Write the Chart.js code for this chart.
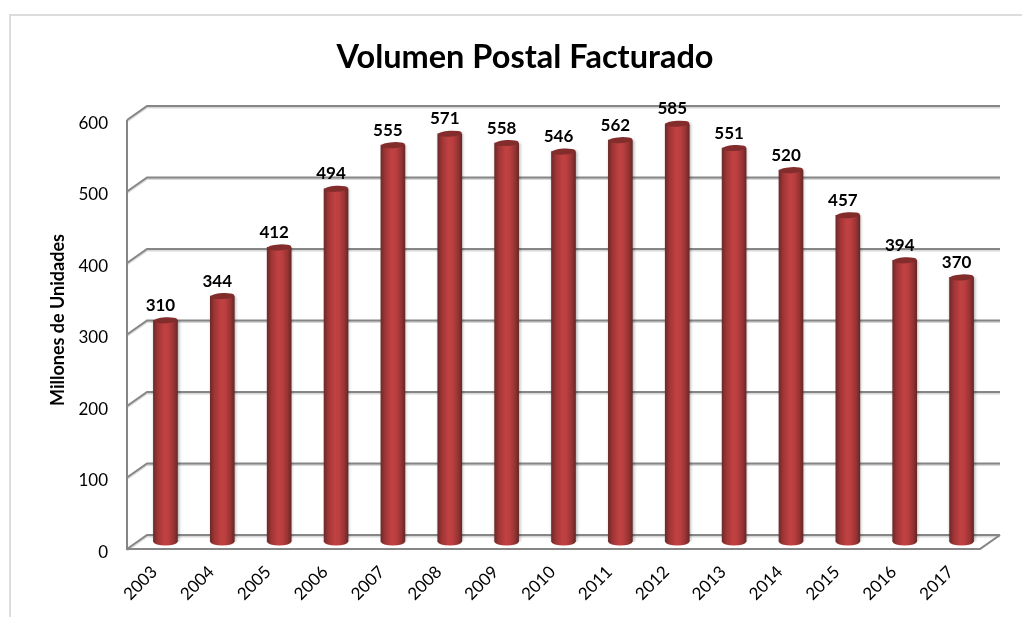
<!DOCTYPE html>
<html>
<head>
<meta charset="utf-8">
<title>Volumen Postal Facturado</title>
<script src="https://cdn.jsdelivr.net/npm/chart.js@4"></script>
<style>
  body { margin: 0; background: #fff; }
  canvas { display: block; }
</style>
</head>
<body>
<canvas id="myChart" width="1022" height="617"></canvas>
<script>
// data
const years = ["2003", "2004", "2005", "2006", "2007", "2008", "2009", "2010", "2011", "2012", "2013", "2014", "2015", "2016", "2017"];
const volumen = [310, 344, 412, 494, 555, 571, 558, 546, 562, 585, 551, 520, 457, 394, 370];
const chartTitle = "Volumen Postal Facturado";
const yTitle = "Millones de Unidades";

// fake 3D: back wall is shifted from the axis, bars stand half way
const depth = { x: 20, y: -14 };
const barShift = { x: 10, y: -7 };
const fontName = "Lato, sans-serif";

function barGradient(c) {
  const chart = c.chart;
  if (!chart.chartArea) return "#b83c3c";
  const x = chart.scales.x.getPixelForValue(c.dataIndex);
  const g = chart.ctx.createLinearGradient(x - 12, 0, x + 12, 0);
  g.addColorStop(0, "#6d2a2a");
  g.addColorStop(0.18, "#a03535");
  g.addColorStop(0.45, "#c04142");
  g.addColorStop(0.62, "#bc3f40");
  g.addColorStop(0.85, "#963333");
  g.addColorStop(1, "#672828");
  return g;
}

const cylinder3d = {
  id: "cylinder3d",
  afterLayout(chart) {
    // title is not centred on the canvas in the original
    chart.titleBlock.left += 35;
    chart.titleBlock.right += 35;
  },
  beforeDraw(chart) {
    const ctx = chart.ctx;
    const { left, right, bottom, top } = chart.chartArea;
    const yScale = chart.scales.y;

    // outer frame
    ctx.save();
    ctx.strokeStyle = "#dcdcdc";
    ctx.lineWidth = 2;
    ctx.beginPath();
    ctx.moveTo(10, 617);
    ctx.lineTo(10, 15);
    ctx.lineTo(1022, 15);
    ctx.stroke();

    // y title
    ctx.save();
    ctx.translate(58, 320);
    ctx.rotate(-Math.PI / 2);
    ctx.font = "bold 18px " + fontName;
    ctx.fillStyle = "#000";
    ctx.textAlign = "center";
    ctx.textBaseline = "middle";
    ctx.fillText(yTitle, 0, 0);
    ctx.restore();

    // walls, light line is the soft shadow
    [["#d8d8d8", 1.5], ["#868686", 0]].forEach(function (s) {
      ctx.strokeStyle = s[0];
      ctx.lineWidth = 2;
      ctx.beginPath();
      yScale.ticks.forEach(function (t) {
        const y = yScale.getPixelForValue(t.value) + s[1];
        ctx.moveTo(left, y);
        ctx.lineTo(left + depth.x, y + depth.y);
        ctx.lineTo(right + depth.x, y + depth.y);
      });
      ctx.moveTo(left, top);
      ctx.lineTo(left, bottom);
      ctx.lineTo(right, bottom);
      ctx.lineTo(right + depth.x, bottom + depth.y);
      ctx.stroke();
    });
    ctx.restore();
  },
  beforeDatasetsDraw(chart) {
    const ctx = chart.ctx;
    ctx.save();
    ctx.translate(barShift.x, barShift.y);
    chart.getDatasetMeta(0).data.forEach(function (bar, i) {
      // round foot of the cylinder
      ctx.fillStyle = barGradient({ chart: chart, dataIndex: i });
      ctx.beginPath();
      ctx.ellipse(bar.x, bar.base, 12, 3.5, 0, 0, Math.PI * 2);
      ctx.fill();
    });
    ctx.shadowColor = "rgba(0,0,0,0.35)";
    ctx.shadowBlur = 3;
    ctx.shadowOffsetX = 1;
  },
  afterDatasetsDraw(chart) {
    const ctx = chart.ctx;
    ctx.restore();
    ctx.save();
    ctx.translate(barShift.x, barShift.y);
    ctx.textAlign = "center";
    ctx.textBaseline = "middle";
    chart.getDatasetMeta(0).data.forEach(function (bar, i) {
      ctx.fillStyle = "#832c2c";
      ctx.beginPath();
      ctx.ellipse(bar.x, bar.y, 12, 3, -0.06, 0, Math.PI * 2);
      ctx.fill();
      ctx.fillStyle = "#000";
      ctx.font = "bold 17px " + fontName;
      ctx.fillText(volumen[i], bar.x - 5, bar.y - 15);
    });
    ctx.restore();
  },
};

const config = {
  type: "bar",
  data: {
    labels: years,
    datasets: [
      {
        label: "Millones de Unidades",
        data: volumen,
        backgroundColor: barGradient,
        barThickness: 24,
      },
    ],
  },
  options: {
    responsive: false,
    animation: false,
    layout: { padding: { left: 0, right: 42, top: 0, bottom: 0 } },
    scales: {
      x: {
        afterFit(scale) { scale.height = 68; },
        grid: { display: false, drawTicks: false },
        border: { display: false },
        ticks: {
          autoSkip: false,
          maxRotation: 45,
          minRotation: 45,
          padding: 13,
          labelOffset: -1,
          color: "#000",
          font: { size: 17, family: fontName },
        },
      },
      y: {
        min: 0,
        max: 600,
        afterFit(scale) { scale.width = 127; },
        grid: { display: false, drawTicks: false },
        border: { display: false },
        ticks: {
          stepSize: 100,
          padding: 19,
          labelOffset: 3.5,
          color: "#000",
          font: { size: 17, family: fontName },
        },
      },
    },
    plugins: {
      legend: { display: false },
      tooltip: { enabled: false },
      title: {
        display: true,
        text: chartTitle,
        color: "#000",
        font: { size: 32.5, weight: "bold", family: fontName, lineHeight: 1.2 },
        padding: { top: 38.5, bottom: 42.5 },
      },
    },
  },
  plugins: [cylinder3d],
};

// render init block
const myChart = new Chart(document.getElementById("myChart"), config);
</script>
</body>
</html>
